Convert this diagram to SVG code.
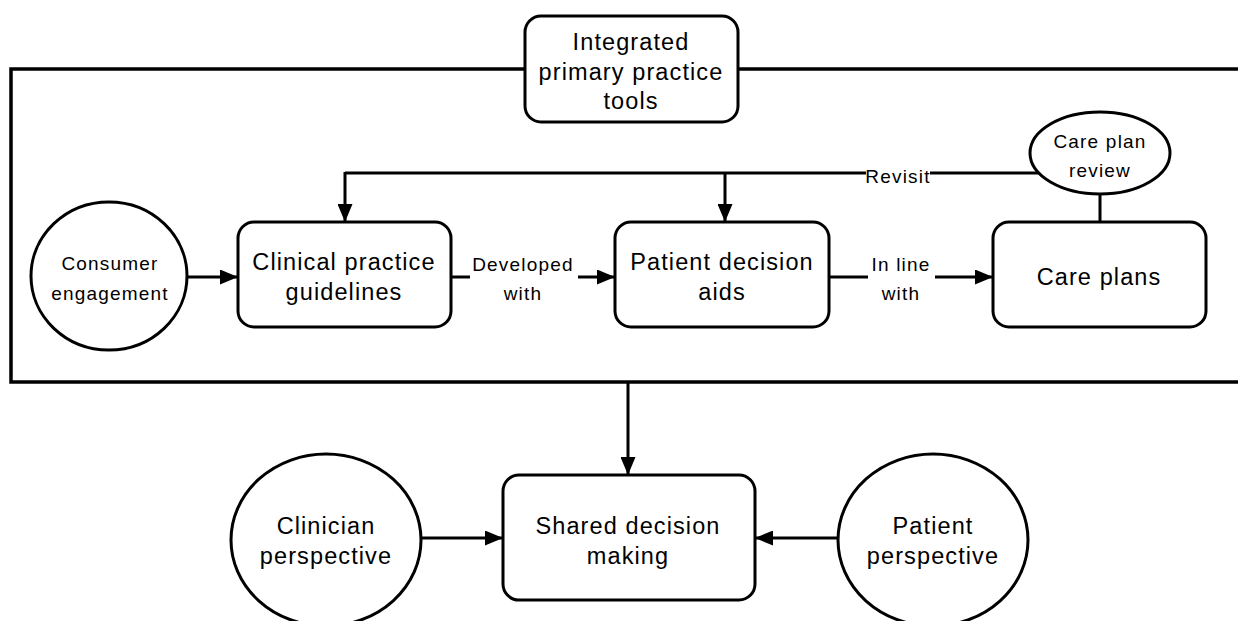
<svg xmlns="http://www.w3.org/2000/svg" width="1238" height="621" viewBox="0 0 1238 621">
  <defs>
    <marker id="arrow" viewBox="0 0 12 10" refX="12" refY="5" markerWidth="6" markerHeight="5" orient="auto" markerUnits="strokeWidth">
      <path d="M0,0 L12,5 L0,10 z" fill="#000"/>
    </marker>
    <style>
      .shape { fill: #fff; stroke: #000; stroke-width: 3; }
      .frame { fill: none; stroke: #000; stroke-width: 3.5; }
      .edge { fill: none; stroke: #000; stroke-width: 3; }
      .arrowed { marker-end: url(#arrow); }
      text { font-family: "Liberation Sans", Arial, sans-serif; fill: #000; text-anchor: middle; }
      .big { font-size: 23.5px; letter-spacing: 1.1px; }
      .lbl { font-size: 19px; letter-spacing: 1.2px; }
      .lblbg { fill: #fff; stroke: none; }
    </style>
  </defs>

  <rect width="1238" height="621" fill="#fff"/>

  <!-- container frame (open on the right) -->
  <path class="frame" d="M1240,69 L11,69 L11,382 L1240,382"/>

  <!-- connectors -->
  <g id="connectors">
    <line class="edge arrowed" x1="187" y1="277" x2="238" y2="277"/>
    <line class="edge" x1="451" y1="277" x2="470" y2="277"/>
    <line class="edge arrowed" x1="578" y1="277" x2="615" y2="277"/>
    <line class="edge" x1="829" y1="277" x2="868" y2="277"/>
    <line class="edge arrowed" x1="935" y1="277" x2="993" y2="277"/>
    <line class="edge" x1="1100" y1="194" x2="1100" y2="222"/>
    <path class="edge" d="M1040,173 L345,173"/>
    <line class="edge arrowed" x1="345" y1="172" x2="345" y2="222"/>
    <line class="edge arrowed" x1="725" y1="173" x2="725" y2="222"/>
    <line class="edge arrowed" x1="628" y1="382" x2="628" y2="475"/>
    <line class="edge arrowed" x1="421" y1="538" x2="503" y2="538"/>
    <line class="edge arrowed" x1="838" y1="538" x2="755" y2="538"/>
    <!-- edge labels -->
    <rect class="lblbg" x="866" y="163" width="64" height="24"/>
    <text class="lbl" x="898" y="183">Revisit</text>
    <text class="lbl" x="523" y="271">Developed</text>
    <text class="lbl" x="523" y="300">with</text>
    <text class="lbl" x="901" y="271">In line</text>
    <text class="lbl" x="901" y="300">with</text>
  </g>

  <g id="integrated-tools">
    <rect class="shape" x="525" y="16" width="213" height="106" rx="16"/>
    <text class="big" x="631" y="50">Integrated</text>
    <text class="big" x="631" y="80">primary practice</text>
    <text class="big" x="631" y="109">tools</text>
  </g>

  <g id="consumer-engagement">
    <ellipse class="shape" cx="109" cy="276" rx="78" ry="74"/>
    <text class="lbl" x="110" y="270">Consumer</text>
    <text class="lbl" x="110" y="300">engagement</text>
  </g>

  <g id="clinical-guidelines">
    <rect class="shape" x="238" y="222" width="213" height="105" rx="16"/>
    <text class="big" x="344" y="270">Clinical practice</text>
    <text class="big" x="344" y="300">guidelines</text>
  </g>

  <g id="patient-decision-aids">
    <rect class="shape" x="615" y="222" width="214" height="105" rx="16"/>
    <text class="big" x="722" y="270">Patient decision</text>
    <text class="big" x="722" y="300">aids</text>
  </g>

  <g id="care-plans">
    <rect class="shape" x="993" y="222" width="213" height="105" rx="16"/>
    <text class="big" x="1099" y="285">Care plans</text>
  </g>

  <g id="care-plan-review">
    <ellipse class="shape" cx="1100" cy="153" rx="70" ry="41"/>
    <text class="lbl" x="1100" y="148">Care plan</text>
    <text class="lbl" x="1100" y="177">review</text>
  </g>

  <g id="shared-decision-making">
    <rect class="shape" x="503" y="475" width="252" height="125" rx="16"/>
    <text class="big" x="628" y="534">Shared decision</text>
    <text class="big" x="628" y="564">making</text>
  </g>

  <g id="clinician-perspective">
    <ellipse class="shape" cx="326" cy="540" rx="95" ry="86"/>
    <text class="big" x="326" y="534">Clinician</text>
    <text class="big" x="326" y="564">perspective</text>
  </g>

  <g id="patient-perspective">
    <ellipse class="shape" cx="933" cy="540" rx="95" ry="86"/>
    <text class="big" x="933" y="534">Patient</text>
    <text class="big" x="933" y="564">perspective</text>
  </g>
</svg>
